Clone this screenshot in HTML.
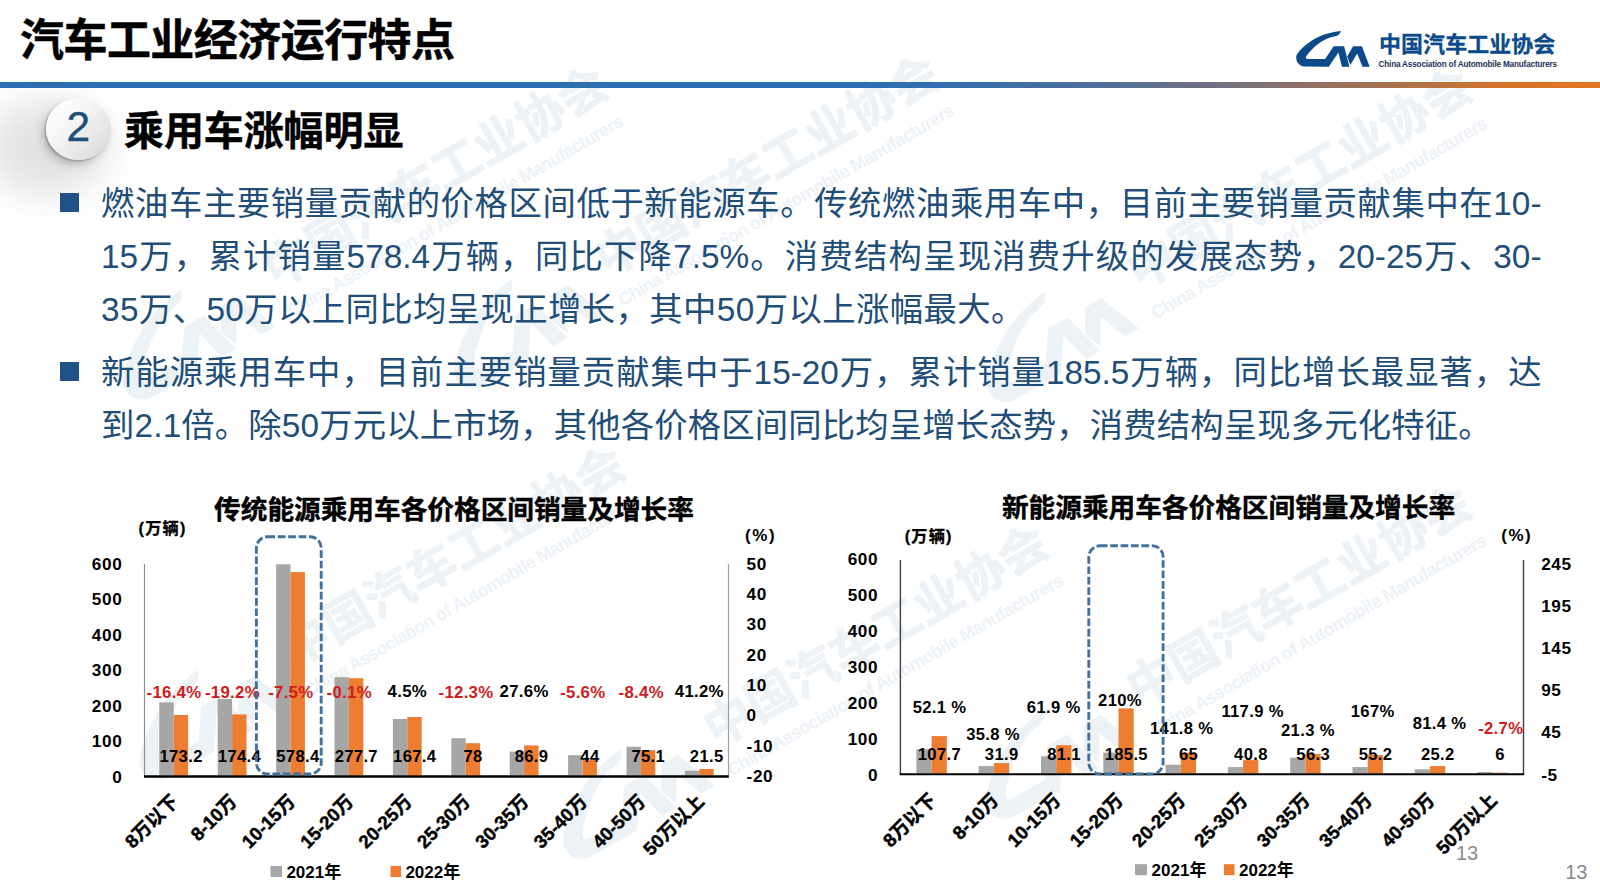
<!DOCTYPE html>
<html lang="zh-CN">
<head>
<meta charset="utf-8">
<title>汽车工业经济运行特点</title>
<style>
html,body{margin:0;padding:0;}
body{width:1600px;height:895px;overflow:hidden;background:#fff;position:relative;
 font-family:"Liberation Sans","Noto Sans CJK SC",sans-serif;color:#000;}
.abs{position:absolute;}
#title{left:20px;top:8.5px;font-size:44px;font-weight:700;line-height:64px;white-space:nowrap;letter-spacing:-0.55px;-webkit-text-stroke:0.5px #000;}
#rule{left:0;top:82.4px;width:1600px;height:5.4px;background:linear-gradient(90deg,#2e6eb2 0%,#2f6eb1 58%,#4d6f9c 68%,#7b7078 78%,#a9714c 87%,#d4742b 94%,#e3761f 100%);}
#shadow{left:-14px;top:101px;width:122px;height:94px;border-radius:50%;background:rgba(60,60,60,.15);filter:blur(19px);}
#circ{left:45.5px;top:97.9px;width:65.4px;height:61.8px;border-radius:50%;
 background:linear-gradient(135deg,#ffffff 0%,#f9f9f9 30%,#e9e9e9 65%,#d6d6d6 100%);
 box-shadow:-1.5px 1.5px 1.5px rgba(120,120,120,.55), -4px 5px 8px rgba(90,90,90,.30);}
#num{left:45.5px;top:96.2px;width:65.4px;height:62px;line-height:62px;text-align:center;font-size:42.5px;color:#1f4e79;-webkit-text-stroke:.35px #1f4e79;}
#sub{left:124px;top:100.5px;font-size:40px;font-weight:700;line-height:60px;white-space:nowrap;letter-spacing:-0.1px;-webkit-text-stroke:0.45px #000;}
.ln{left:101px;width:1440.5px;height:53px;font-size:33.33px;line-height:53px;color:#1f4e79;white-space:nowrap;}
.ln.j{text-align:justify;text-align-last:justify;white-space:normal;overflow:hidden;}
.sq{width:19.2px;height:19.4px;background:#1f5286;}
#lcn{left:1379px;top:30.3px;font-size:22px;line-height:30px;font-weight:700;color:#0d4a8a;letter-spacing:.05px;white-space:nowrap;-webkit-text-stroke:.3px #0d4a8a;}
#len{left:1378.5px;top:59.2px;font-size:8.2px;line-height:12px;font-weight:700;color:#1b3556;white-space:nowrap;letter-spacing:-0.185px;}
.pg{font-size:20px;line-height:20px;color:#8a8a8a;}
#wmwrap{left:0;top:0;width:1600px;height:895px;overflow:hidden;opacity:.065;}
.wm{position:absolute;width:0;height:0;transform-origin:0 0;transform:rotate(-30deg) scale(2.2);}
.wc{position:absolute;left:82.75px;top:-36.8px;font-size:22px;line-height:30px;font-weight:700;color:#0d4a8a;letter-spacing:.05px;white-space:nowrap;-webkit-text-stroke:.5px #0d4a8a;}
.we{position:absolute;left:82.25px;top:-7.6px;font-size:8.2px;line-height:12px;font-weight:700;color:#0d4a8a;white-space:nowrap;letter-spacing:-0.27px;-webkit-text-stroke:.12px #0d4a8a;}
</style>
</head>
<body>
<!--WM-->
<div id="wmwrap" class="abs">
<div class="wm" style="left:135px;top:407.5px"><svg class="abs" style="left:-6.25px;top:-42.8px" width="100" height="52" viewBox="0 0 100 52"><path fill="#0d4a8a" d="M50.9 6.9 C46 7.4 40 8.6 35 10.3 C29 12.4 23 15.6 18.75 18.75 C14 22 10 26 7.5 29.4 C6.3 31.2 6.1 32.6 6.25 33.75 C6.3 35.5 6.6 37 7.2 38.1 C7.8 39.2 8.8 40.2 10 40.9 C11 41.6 12.4 42.2 13.75 42.5 L38.75 42.8 L48.4 28.4 L51.9 42.8 L59.4 42.8 L54.1 22.2 L43.75 22.2 L35.1 35.1 L17.5 35 C16.4 34.8 15.9 34.4 15.9 33.75 C15.9 33 16.3 32.1 16.9 31.25 C18 29.6 19.6 27.8 21.25 26.25 C23 24.4 25.4 22.3 27.5 20.6 C29.4 19.1 31.7 17.5 33.75 16.25 C35.7 15.1 37.9 14.1 40 13.4 C42 12.8 44.3 12.3 46.25 11.9 C47.8 11.5 48.8 10.9 49.4 10 C50 9.1 50.5 8 50.9 6.9 Z"/><path fill="#0d4a8a" d="M63.1 22.2 L71.9 22.2 L79.7 42.8 L72.5 42.8 L67.2 29.4 L60.3 40.9 L57.2 32.5 Z"/></svg><div class="wc">中国汽车工业协会</div><div class="we">China Association of Automobile Manufacturers</div></div>
<div class="wm" style="left:466px;top:396.5px"><svg class="abs" style="left:-6.25px;top:-42.8px" width="100" height="52" viewBox="0 0 100 52"><path fill="#0d4a8a" d="M50.9 6.9 C46 7.4 40 8.6 35 10.3 C29 12.4 23 15.6 18.75 18.75 C14 22 10 26 7.5 29.4 C6.3 31.2 6.1 32.6 6.25 33.75 C6.3 35.5 6.6 37 7.2 38.1 C7.8 39.2 8.8 40.2 10 40.9 C11 41.6 12.4 42.2 13.75 42.5 L38.75 42.8 L48.4 28.4 L51.9 42.8 L59.4 42.8 L54.1 22.2 L43.75 22.2 L35.1 35.1 L17.5 35 C16.4 34.8 15.9 34.4 15.9 33.75 C15.9 33 16.3 32.1 16.9 31.25 C18 29.6 19.6 27.8 21.25 26.25 C23 24.4 25.4 22.3 27.5 20.6 C29.4 19.1 31.7 17.5 33.75 16.25 C35.7 15.1 37.9 14.1 40 13.4 C42 12.8 44.3 12.3 46.25 11.9 C47.8 11.5 48.8 10.9 49.4 10 C50 9.1 50.5 8 50.9 6.9 Z"/><path fill="#0d4a8a" d="M63.1 22.2 L71.9 22.2 L79.7 42.8 L72.5 42.8 L67.2 29.4 L60.3 40.9 L57.2 32.5 Z"/></svg><div class="wc">中国汽车工业协会</div><div class="we">China Association of Automobile Manufacturers</div></div>
<div class="wm" style="left:999px;top:410.4px"><svg class="abs" style="left:-6.25px;top:-42.8px" width="100" height="52" viewBox="0 0 100 52"><path fill="#0d4a8a" d="M50.9 6.9 C46 7.4 40 8.6 35 10.3 C29 12.4 23 15.6 18.75 18.75 C14 22 10 26 7.5 29.4 C6.3 31.2 6.1 32.6 6.25 33.75 C6.3 35.5 6.6 37 7.2 38.1 C7.8 39.2 8.8 40.2 10 40.9 C11 41.6 12.4 42.2 13.75 42.5 L38.75 42.8 L48.4 28.4 L51.9 42.8 L59.4 42.8 L54.1 22.2 L43.75 22.2 L35.1 35.1 L17.5 35 C16.4 34.8 15.9 34.4 15.9 33.75 C15.9 33 16.3 32.1 16.9 31.25 C18 29.6 19.6 27.8 21.25 26.25 C23 24.4 25.4 22.3 27.5 20.6 C29.4 19.1 31.7 17.5 33.75 16.25 C35.7 15.1 37.9 14.1 40 13.4 C42 12.8 44.3 12.3 46.25 11.9 C47.8 11.5 48.8 10.9 49.4 10 C50 9.1 50.5 8 50.9 6.9 Z"/><path fill="#0d4a8a" d="M63.1 22.2 L71.9 22.2 L79.7 42.8 L72.5 42.8 L67.2 29.4 L60.3 40.9 L57.2 32.5 Z"/></svg><div class="wc">中国汽车工业协会</div><div class="we">China Association of Automobile Manufacturers</div></div>
<div class="wm" style="left:151.5px;top:788px"><svg class="abs" style="left:-6.25px;top:-42.8px" width="100" height="52" viewBox="0 0 100 52"><path fill="#0d4a8a" d="M50.9 6.9 C46 7.4 40 8.6 35 10.3 C29 12.4 23 15.6 18.75 18.75 C14 22 10 26 7.5 29.4 C6.3 31.2 6.1 32.6 6.25 33.75 C6.3 35.5 6.6 37 7.2 38.1 C7.8 39.2 8.8 40.2 10 40.9 C11 41.6 12.4 42.2 13.75 42.5 L38.75 42.8 L48.4 28.4 L51.9 42.8 L59.4 42.8 L54.1 22.2 L43.75 22.2 L35.1 35.1 L17.5 35 C16.4 34.8 15.9 34.4 15.9 33.75 C15.9 33 16.3 32.1 16.9 31.25 C18 29.6 19.6 27.8 21.25 26.25 C23 24.4 25.4 22.3 27.5 20.6 C29.4 19.1 31.7 17.5 33.75 16.25 C35.7 15.1 37.9 14.1 40 13.4 C42 12.8 44.3 12.3 46.25 11.9 C47.8 11.5 48.8 10.9 49.4 10 C50 9.1 50.5 8 50.9 6.9 Z"/><path fill="#0d4a8a" d="M63.1 22.2 L71.9 22.2 L79.7 42.8 L72.5 42.8 L67.2 29.4 L60.3 40.9 L57.2 32.5 Z"/></svg><div class="wc">中国汽车工业协会</div><div class="we">China Association of Automobile Manufacturers</div></div>
<div class="wm" style="left:575.3px;top:867px"><svg class="abs" style="left:-6.25px;top:-42.8px" width="100" height="52" viewBox="0 0 100 52"><path fill="#0d4a8a" d="M50.9 6.9 C46 7.4 40 8.6 35 10.3 C29 12.4 23 15.6 18.75 18.75 C14 22 10 26 7.5 29.4 C6.3 31.2 6.1 32.6 6.25 33.75 C6.3 35.5 6.6 37 7.2 38.1 C7.8 39.2 8.8 40.2 10 40.9 C11 41.6 12.4 42.2 13.75 42.5 L38.75 42.8 L48.4 28.4 L51.9 42.8 L59.4 42.8 L54.1 22.2 L43.75 22.2 L35.1 35.1 L17.5 35 C16.4 34.8 15.9 34.4 15.9 33.75 C15.9 33 16.3 32.1 16.9 31.25 C18 29.6 19.6 27.8 21.25 26.25 C23 24.4 25.4 22.3 27.5 20.6 C29.4 19.1 31.7 17.5 33.75 16.25 C35.7 15.1 37.9 14.1 40 13.4 C42 12.8 44.3 12.3 46.25 11.9 C47.8 11.5 48.8 10.9 49.4 10 C50 9.1 50.5 8 50.9 6.9 Z"/><path fill="#0d4a8a" d="M63.1 22.2 L71.9 22.2 L79.7 42.8 L72.5 42.8 L67.2 29.4 L60.3 40.9 L57.2 32.5 Z"/></svg><div class="wc">中国汽车工业协会</div><div class="we">China Association of Automobile Manufacturers</div></div>
<div class="wm" style="left:997.6px;top:827px"><svg class="abs" style="left:-6.25px;top:-42.8px" width="100" height="52" viewBox="0 0 100 52"><path fill="#0d4a8a" d="M50.9 6.9 C46 7.4 40 8.6 35 10.3 C29 12.4 23 15.6 18.75 18.75 C14 22 10 26 7.5 29.4 C6.3 31.2 6.1 32.6 6.25 33.75 C6.3 35.5 6.6 37 7.2 38.1 C7.8 39.2 8.8 40.2 10 40.9 C11 41.6 12.4 42.2 13.75 42.5 L38.75 42.8 L48.4 28.4 L51.9 42.8 L59.4 42.8 L54.1 22.2 L43.75 22.2 L35.1 35.1 L17.5 35 C16.4 34.8 15.9 34.4 15.9 33.75 C15.9 33 16.3 32.1 16.9 31.25 C18 29.6 19.6 27.8 21.25 26.25 C23 24.4 25.4 22.3 27.5 20.6 C29.4 19.1 31.7 17.5 33.75 16.25 C35.7 15.1 37.9 14.1 40 13.4 C42 12.8 44.3 12.3 46.25 11.9 C47.8 11.5 48.8 10.9 49.4 10 C50 9.1 50.5 8 50.9 6.9 Z"/><path fill="#0d4a8a" d="M63.1 22.2 L71.9 22.2 L79.7 42.8 L72.5 42.8 L67.2 29.4 L60.3 40.9 L57.2 32.5 Z"/></svg><div class="wc">中国汽车工业协会</div><div class="we">China Association of Automobile Manufacturers</div></div>
</div>
<!--/WM-->
<div id="title" class="abs">汽车工业经济运行特点</div>
<div id="rule" class="abs"></div>
<div id="shadow" class="abs"></div>
<div id="circ" class="abs"></div>
<div id="num" class="abs">2</div>
<div id="sub" class="abs">乘用车涨幅明显</div>

<div class="abs sq" style="left:59.5px;top:192.5px"></div>
<div class="abs ln j" style="top:176.7px">燃油车主要销量贡献的价格区间低于新能源车。传统燃油乘用车中，目前主要销量贡献集中在10-</div>
<div class="abs ln j" style="top:229.7px">15万，累计销量578.4万辆，同比下降7.5%。消费结构呈现消费升级的发展态势，20-25万、30-</div>
<div class="abs ln" style="top:282.7px;letter-spacing:.42px">35万、50万以上同比均呈现正增长，其中50万以上涨幅最大。</div>
<div class="abs sq" style="left:59.5px;top:361.5px"></div>
<div class="abs ln j" style="top:345.6px">新能源乘用车中，目前主要销量贡献集中于15-20万，累计销量185.5万辆，同比增长最显著，达</div>
<div class="abs ln" style="top:398.8px;letter-spacing:.17px">到2.1倍。除50万元以上市场，其他各价格区间同比均呈增长态势，消费结构呈现多元化特征。</div>

<svg class="abs" style="left:1290px;top:24px" width="100" height="52" viewBox="0 0 100 52">
<path fill="#0d4a8a" d="M50.9 6.9 C46 7.4 40 8.6 35 10.3 C29 12.4 23 15.6 18.75 18.75 C14 22 10 26 7.5 29.4 C6.3 31.2 6.1 32.6 6.25 33.75 C6.3 35.5 6.6 37 7.2 38.1 C7.8 39.2 8.8 40.2 10 40.9 C11 41.6 12.4 42.2 13.75 42.5 L38.75 42.8 L48.4 28.4 L51.9 42.8 L59.4 42.8 L54.1 22.2 L43.75 22.2 L35.1 35.1 L17.5 35 C16.4 34.8 15.9 34.4 15.9 33.75 C15.9 33 16.3 32.1 16.9 31.25 C18 29.6 19.6 27.8 21.25 26.25 C23 24.4 25.4 22.3 27.5 20.6 C29.4 19.1 31.7 17.5 33.75 16.25 C35.7 15.1 37.9 14.1 40 13.4 C42 12.8 44.3 12.3 46.25 11.9 C47.8 11.5 48.8 10.9 49.4 10 C50 9.1 50.5 8 50.9 6.9 Z"/>
<path fill="#0d4a8a" d="M63.1 22.2 L71.9 22.2 L79.7 42.8 L72.5 42.8 L67.2 29.4 L60.3 40.9 L57.2 32.5 Z"/>
</svg>
<div id="lcn" class="abs">中国汽车工业协会</div>
<div id="len" class="abs">China Association of Automobile Manufacturers</div>
<div class="abs pg" style="left:1456px;top:843.2px">13</div>
<div class="abs pg" style="left:1565.2px;top:861.5px">13</div>

<!--CHARTS-->
<svg class="abs" style="left:0;top:0" width="1600" height="895" viewBox="0 0 1600 895" font-family="Liberation Sans, Noto Sans CJK SC, sans-serif">
<text x="454.0" y="519.3" font-size="26.67" text-anchor="middle" fill="#000" font-weight="700" stroke="#000" stroke-width="0.4">传统能源乘用车各价格区间销量及增长率</text>
<text x="162.6" y="534.2" font-size="16.2" text-anchor="middle" fill="#000" font-weight="700" letter-spacing="1.2" stroke="#000" stroke-width="0.3">(万辆)</text>
<text x="760.6" y="540.8" font-size="17" text-anchor="middle" fill="#000" font-weight="700" letter-spacing="1.5">(%)</text>
<line x1="144.5" y1="564.0" x2="144.5" y2="776.0" stroke="#8c8c8c" stroke-width="1.2"/>
<line x1="728.5" y1="564.0" x2="728.5" y2="776.0" stroke="#a0a0a0" stroke-width="1.2"/>
<text x="122.3" y="569.8" font-size="17.2" text-anchor="end" fill="#000" font-weight="700" letter-spacing="0.6">600</text>
<text x="122.3" y="605.3" font-size="17.2" text-anchor="end" fill="#000" font-weight="700" letter-spacing="0.6">500</text>
<text x="122.3" y="640.8" font-size="17.2" text-anchor="end" fill="#000" font-weight="700" letter-spacing="0.6">400</text>
<text x="122.3" y="676.3" font-size="17.2" text-anchor="end" fill="#000" font-weight="700" letter-spacing="0.6">300</text>
<text x="122.3" y="711.8" font-size="17.2" text-anchor="end" fill="#000" font-weight="700" letter-spacing="0.6">200</text>
<text x="122.3" y="747.3" font-size="17.2" text-anchor="end" fill="#000" font-weight="700" letter-spacing="0.6">100</text>
<text x="122.3" y="782.8" font-size="17.2" text-anchor="end" fill="#000" font-weight="700" letter-spacing="0.6">0</text>
<text x="746.6" y="569.8" font-size="17.2" text-anchor="start" fill="#000" font-weight="700" letter-spacing="0.6">50</text>
<text x="746.6" y="600.1" font-size="17.2" text-anchor="start" fill="#000" font-weight="700" letter-spacing="0.6">40</text>
<text x="746.6" y="630.4" font-size="17.2" text-anchor="start" fill="#000" font-weight="700" letter-spacing="0.6">30</text>
<text x="746.6" y="660.7" font-size="17.2" text-anchor="start" fill="#000" font-weight="700" letter-spacing="0.6">20</text>
<text x="746.6" y="691.0" font-size="17.2" text-anchor="start" fill="#000" font-weight="700" letter-spacing="0.6">10</text>
<text x="746.6" y="721.3" font-size="17.2" text-anchor="start" fill="#000" font-weight="700" letter-spacing="0.6">0</text>
<text x="746.6" y="751.6" font-size="17.2" text-anchor="start" fill="#000" font-weight="700" letter-spacing="0.6">-10</text>
<text x="746.6" y="781.9" font-size="17.2" text-anchor="start" fill="#000" font-weight="700" letter-spacing="0.6">-20</text>
<rect x="159.3" y="702.4" width="14.4" height="73.0" fill="#a6a6a6"/>
<rect x="173.7" y="715.0" width="14.4" height="60.4" fill="#ed7d31"/>
<rect x="217.7" y="699.0" width="14.4" height="76.4" fill="#a6a6a6"/>
<rect x="232.1" y="714.4" width="14.4" height="61.0" fill="#ed7d31"/>
<rect x="276.1" y="564.3" width="14.4" height="211.1" fill="#a6a6a6"/>
<rect x="290.5" y="572.1" width="14.4" height="203.3" fill="#ed7d31"/>
<rect x="334.5" y="677.2" width="14.4" height="98.2" fill="#a6a6a6"/>
<rect x="348.9" y="678.2" width="14.4" height="97.2" fill="#ed7d31"/>
<rect x="392.9" y="719.0" width="14.4" height="56.4" fill="#a6a6a6"/>
<rect x="407.3" y="717.0" width="14.4" height="58.4" fill="#ed7d31"/>
<rect x="451.3" y="738.2" width="14.4" height="37.2" fill="#a6a6a6"/>
<rect x="465.7" y="743.2" width="14.4" height="32.2" fill="#ed7d31"/>
<rect x="509.7" y="751.6" width="14.4" height="23.8" fill="#a6a6a6"/>
<rect x="524.1" y="745.4" width="14.4" height="30.0" fill="#ed7d31"/>
<rect x="568.1" y="755.2" width="14.4" height="20.2" fill="#a6a6a6"/>
<rect x="582.5" y="760.0" width="14.4" height="15.4" fill="#ed7d31"/>
<rect x="626.5" y="746.8" width="14.4" height="28.6" fill="#a6a6a6"/>
<rect x="640.9" y="750.2" width="14.4" height="25.2" fill="#ed7d31"/>
<rect x="684.9" y="770.7" width="14.4" height="4.7" fill="#a6a6a6"/>
<rect x="699.3" y="769.0" width="14.4" height="6.4" fill="#ed7d31"/>
<line x1="144.0" y1="776.5" x2="728.8" y2="776.5" stroke="#000" stroke-width="2.6"/>
<text x="174.0" y="698.0" font-size="16.8" text-anchor="middle" fill="#d01c1c" font-weight="700" letter-spacing="0.3">-16.4%</text>
<text x="181.1" y="761.8" font-size="16.6" text-anchor="middle" fill="#000" font-weight="700" letter-spacing="0.35">173.2</text>
<text transform="translate(179.5,802.6) rotate(-45)" font-size="18.6" font-weight="700" text-anchor="end" stroke="#000" stroke-width="0.45">8万以下</text>
<text x="232.4" y="698.0" font-size="16.8" text-anchor="middle" fill="#d01c1c" font-weight="700" letter-spacing="0.3">-19.2%</text>
<text x="239.5" y="761.8" font-size="16.6" text-anchor="middle" fill="#000" font-weight="700" letter-spacing="0.35">174.4</text>
<text transform="translate(237.9,802.6) rotate(-45)" font-size="18.6" font-weight="700" text-anchor="end" stroke="#000" stroke-width="0.45">8-10万</text>
<text x="290.8" y="698.0" font-size="16.8" text-anchor="middle" fill="#d01c1c" font-weight="700" letter-spacing="0.3">-7.5%</text>
<text x="297.9" y="761.8" font-size="16.6" text-anchor="middle" fill="#000" font-weight="700" letter-spacing="0.35">578.4</text>
<text transform="translate(296.3,802.6) rotate(-45)" font-size="18.6" font-weight="700" text-anchor="end" stroke="#000" stroke-width="0.45">10-15万</text>
<text x="349.2" y="698.0" font-size="16.8" text-anchor="middle" fill="#d01c1c" font-weight="700" letter-spacing="0.3">-0.1%</text>
<text x="356.3" y="761.8" font-size="16.6" text-anchor="middle" fill="#000" font-weight="700" letter-spacing="0.35">277.7</text>
<text transform="translate(354.7,802.6) rotate(-45)" font-size="18.6" font-weight="700" text-anchor="end" stroke="#000" stroke-width="0.45">15-20万</text>
<text x="407.3" y="696.9" font-size="16.8" text-anchor="middle" fill="#000" font-weight="700" letter-spacing="0.3">4.5%</text>
<text x="414.7" y="761.8" font-size="16.6" text-anchor="middle" fill="#000" font-weight="700" letter-spacing="0.35">167.4</text>
<text transform="translate(413.1,802.6) rotate(-45)" font-size="18.6" font-weight="700" text-anchor="end" stroke="#000" stroke-width="0.45">20-25万</text>
<text x="466.0" y="698.0" font-size="16.8" text-anchor="middle" fill="#d01c1c" font-weight="700" letter-spacing="0.3">-12.3%</text>
<text x="473.1" y="761.8" font-size="16.6" text-anchor="middle" fill="#000" font-weight="700" letter-spacing="0.35">78</text>
<text transform="translate(471.5,802.6) rotate(-45)" font-size="18.6" font-weight="700" text-anchor="end" stroke="#000" stroke-width="0.45">25-30万</text>
<text x="524.1" y="696.9" font-size="16.8" text-anchor="middle" fill="#000" font-weight="700" letter-spacing="0.3">27.6%</text>
<text x="531.5" y="761.8" font-size="16.6" text-anchor="middle" fill="#000" font-weight="700" letter-spacing="0.35">86.9</text>
<text transform="translate(529.9,802.6) rotate(-45)" font-size="18.6" font-weight="700" text-anchor="end" stroke="#000" stroke-width="0.45">30-35万</text>
<text x="582.8" y="698.0" font-size="16.8" text-anchor="middle" fill="#d01c1c" font-weight="700" letter-spacing="0.3">-5.6%</text>
<text x="589.9" y="761.8" font-size="16.6" text-anchor="middle" fill="#000" font-weight="700" letter-spacing="0.35">44</text>
<text transform="translate(588.3,802.6) rotate(-45)" font-size="18.6" font-weight="700" text-anchor="end" stroke="#000" stroke-width="0.45">35-40万</text>
<text x="641.2" y="698.0" font-size="16.8" text-anchor="middle" fill="#d01c1c" font-weight="700" letter-spacing="0.3">-8.4%</text>
<text x="648.3" y="761.8" font-size="16.6" text-anchor="middle" fill="#000" font-weight="700" letter-spacing="0.35">75.1</text>
<text transform="translate(646.7,802.6) rotate(-45)" font-size="18.6" font-weight="700" text-anchor="end" stroke="#000" stroke-width="0.45">40-50万</text>
<text x="699.3" y="696.9" font-size="16.8" text-anchor="middle" fill="#000" font-weight="700" letter-spacing="0.3">41.2%</text>
<text x="706.7" y="761.8" font-size="16.6" text-anchor="middle" fill="#000" font-weight="700" letter-spacing="0.35">21.5</text>
<text transform="translate(705.1,802.6) rotate(-45)" font-size="18.6" font-weight="700" text-anchor="end" stroke="#000" stroke-width="0.45">50万以上</text>
<rect x="256.4" y="536.8" width="64.8" height="237.2" rx="11" ry="11" fill="none" stroke="#41719c" stroke-width="2.9" stroke-dasharray="7.7 2.7"/>
<rect x="270.5" y="866.0" width="11.5" height="11.0" fill="#a6a6a6"/>
<text x="286.4" y="878.1" font-size="17" text-anchor="start" fill="#000" font-weight="700" >2021年</text>
<rect x="390.5" y="866.0" width="10.5" height="11.0" fill="#ed7d31"/>
<text x="405.4" y="878.1" font-size="17" text-anchor="start" fill="#000" font-weight="700" >2022年</text>
<text x="1228.5" y="517.3" font-size="26.67" text-anchor="middle" fill="#000" font-weight="700" stroke="#000" stroke-width="0.4">新能源乘用车各价格区间销量及增长率</text>
<text x="928.7" y="542.4" font-size="16.2" text-anchor="middle" fill="#000" font-weight="700" letter-spacing="1.2" stroke="#000" stroke-width="0.3">(万辆)</text>
<text x="1516.8" y="540.8" font-size="17" text-anchor="middle" fill="#000" font-weight="700" letter-spacing="1.5">(%)</text>
<line x1="900.4" y1="560.0" x2="900.4" y2="774.0" stroke="#404040" stroke-width="1.4"/>
<line x1="1523.5" y1="560.0" x2="1523.5" y2="774.0" stroke="#404040" stroke-width="1.4"/>
<text x="878.2" y="565.3" font-size="17.2" text-anchor="end" fill="#000" font-weight="700" letter-spacing="0.6">600</text>
<text x="878.2" y="601.2" font-size="17.2" text-anchor="end" fill="#000" font-weight="700" letter-spacing="0.6">500</text>
<text x="878.2" y="637.0" font-size="17.2" text-anchor="end" fill="#000" font-weight="700" letter-spacing="0.6">400</text>
<text x="878.2" y="672.9" font-size="17.2" text-anchor="end" fill="#000" font-weight="700" letter-spacing="0.6">300</text>
<text x="878.2" y="708.8" font-size="17.2" text-anchor="end" fill="#000" font-weight="700" letter-spacing="0.6">200</text>
<text x="878.2" y="744.7" font-size="17.2" text-anchor="end" fill="#000" font-weight="700" letter-spacing="0.6">100</text>
<text x="878.2" y="780.5" font-size="17.2" text-anchor="end" fill="#000" font-weight="700" letter-spacing="0.6">0</text>
<text x="1541.2" y="569.8" font-size="17.2" text-anchor="start" fill="#000" font-weight="700" letter-spacing="0.6">245</text>
<text x="1541.2" y="612.0" font-size="17.2" text-anchor="start" fill="#000" font-weight="700" letter-spacing="0.6">195</text>
<text x="1541.2" y="654.1" font-size="17.2" text-anchor="start" fill="#000" font-weight="700" letter-spacing="0.6">145</text>
<text x="1541.2" y="696.3" font-size="17.2" text-anchor="start" fill="#000" font-weight="700" letter-spacing="0.6">95</text>
<text x="1541.2" y="738.4" font-size="17.2" text-anchor="start" fill="#000" font-weight="700" letter-spacing="0.6">45</text>
<text x="1541.2" y="780.6" font-size="17.2" text-anchor="start" fill="#000" font-weight="700" letter-spacing="0.6">-5</text>
<rect x="916.4" y="749.2" width="15.2" height="24.2" fill="#a6a6a6"/>
<rect x="931.6" y="736.1" width="15.2" height="37.3" fill="#ed7d31"/>
<rect x="978.7" y="766.1" width="15.2" height="7.3" fill="#a6a6a6"/>
<rect x="993.9" y="763.1" width="15.2" height="10.3" fill="#ed7d31"/>
<rect x="1041.0" y="756.3" width="15.2" height="17.1" fill="#a6a6a6"/>
<rect x="1056.2" y="745.2" width="15.2" height="28.2" fill="#ed7d31"/>
<rect x="1103.3" y="752.6" width="15.2" height="20.8" fill="#a6a6a6"/>
<rect x="1118.5" y="708.4" width="15.2" height="65.0" fill="#ed7d31"/>
<rect x="1165.6" y="764.7" width="15.2" height="8.7" fill="#a6a6a6"/>
<rect x="1180.8" y="752.8" width="15.2" height="20.6" fill="#ed7d31"/>
<rect x="1227.9" y="767.1" width="15.2" height="6.3" fill="#a6a6a6"/>
<rect x="1243.1" y="760.1" width="15.2" height="13.3" fill="#ed7d31"/>
<rect x="1290.2" y="757.7" width="15.2" height="15.7" fill="#a6a6a6"/>
<rect x="1305.4" y="754.0" width="15.2" height="19.4" fill="#ed7d31"/>
<rect x="1352.5" y="767.1" width="15.2" height="6.3" fill="#a6a6a6"/>
<rect x="1367.7" y="755.0" width="15.2" height="18.4" fill="#ed7d31"/>
<rect x="1414.8" y="769.3" width="15.2" height="4.1" fill="#a6a6a6"/>
<rect x="1430.0" y="766.1" width="15.2" height="7.3" fill="#ed7d31"/>
<rect x="1477.1" y="772.0" width="15.2" height="1.4" fill="#a6a6a6"/>
<rect x="1492.3" y="772.6" width="15.2" height="0.8" fill="#ed7d31"/>
<line x1="899.7" y1="774.3" x2="1524.2" y2="774.3" stroke="#000" stroke-width="2.1"/>
<text x="939.6" y="712.9" font-size="16.6" text-anchor="middle" fill="#000" font-weight="700" letter-spacing="0.35">52.1 %</text>
<text x="939.4" y="760.0" font-size="16.6" text-anchor="middle" fill="#000" font-weight="700" letter-spacing="0.35">107.7</text>
<text transform="translate(937.4,801.4) rotate(-45)" font-size="18.6" font-weight="700" text-anchor="end" stroke="#000" stroke-width="0.45">8万以下</text>
<text x="993.1" y="740.1" font-size="16.6" text-anchor="middle" fill="#000" font-weight="700" letter-spacing="0.35">35.8 %</text>
<text x="1001.7" y="760.0" font-size="16.6" text-anchor="middle" fill="#000" font-weight="700" letter-spacing="0.35">31.9</text>
<text transform="translate(999.7,801.4) rotate(-45)" font-size="18.6" font-weight="700" text-anchor="end" stroke="#000" stroke-width="0.45">8-10万</text>
<text x="1053.7" y="712.9" font-size="16.6" text-anchor="middle" fill="#000" font-weight="700" letter-spacing="0.35">61.9 %</text>
<text x="1064.0" y="760.0" font-size="16.6" text-anchor="middle" fill="#000" font-weight="700" letter-spacing="0.35">81.1</text>
<text transform="translate(1062.0,801.4) rotate(-45)" font-size="18.6" font-weight="700" text-anchor="end" stroke="#000" stroke-width="0.45">10-15万</text>
<text x="1120.0" y="705.9" font-size="16.6" text-anchor="middle" fill="#000" font-weight="700" letter-spacing="0.35">210%</text>
<text x="1126.3" y="760.0" font-size="16.6" text-anchor="middle" fill="#000" font-weight="700" letter-spacing="0.35">185.5</text>
<text transform="translate(1124.3,801.4) rotate(-45)" font-size="18.6" font-weight="700" text-anchor="end" stroke="#000" stroke-width="0.45">15-20万</text>
<text x="1181.7" y="734.1" font-size="16.6" text-anchor="middle" fill="#000" font-weight="700" letter-spacing="0.35">141.8 %</text>
<text x="1188.6" y="760.0" font-size="16.6" text-anchor="middle" fill="#000" font-weight="700" letter-spacing="0.35">65</text>
<text transform="translate(1186.6,801.4) rotate(-45)" font-size="18.6" font-weight="700" text-anchor="end" stroke="#000" stroke-width="0.45">20-25万</text>
<text x="1252.6" y="717.1" font-size="16.6" text-anchor="middle" fill="#000" font-weight="700" letter-spacing="0.35">117.9 %</text>
<text x="1250.9" y="760.0" font-size="16.6" text-anchor="middle" fill="#000" font-weight="700" letter-spacing="0.35">40.8</text>
<text transform="translate(1248.9,801.4) rotate(-45)" font-size="18.6" font-weight="700" text-anchor="end" stroke="#000" stroke-width="0.45">25-30万</text>
<text x="1307.9" y="735.7" font-size="16.6" text-anchor="middle" fill="#000" font-weight="700" letter-spacing="0.35">21.3 %</text>
<text x="1313.2" y="760.0" font-size="16.6" text-anchor="middle" fill="#000" font-weight="700" letter-spacing="0.35">56.3</text>
<text transform="translate(1311.2,801.4) rotate(-45)" font-size="18.6" font-weight="700" text-anchor="end" stroke="#000" stroke-width="0.45">30-35万</text>
<text x="1372.7" y="717.1" font-size="16.6" text-anchor="middle" fill="#000" font-weight="700" letter-spacing="0.35">167%</text>
<text x="1375.5" y="760.0" font-size="16.6" text-anchor="middle" fill="#000" font-weight="700" letter-spacing="0.35">55.2</text>
<text transform="translate(1373.5,801.4) rotate(-45)" font-size="18.6" font-weight="700" text-anchor="end" stroke="#000" stroke-width="0.45">35-40万</text>
<text x="1439.6" y="729.2" font-size="16.6" text-anchor="middle" fill="#000" font-weight="700" letter-spacing="0.35">81.4 %</text>
<text x="1437.8" y="760.0" font-size="16.6" text-anchor="middle" fill="#000" font-weight="700" letter-spacing="0.35">25.2</text>
<text transform="translate(1435.8,801.4) rotate(-45)" font-size="18.6" font-weight="700" text-anchor="end" stroke="#000" stroke-width="0.45">40-50万</text>
<text x="1500.7" y="733.6" font-size="16.6" text-anchor="middle" fill="#d01c1c" font-weight="700" letter-spacing="0.35">-2.7%</text>
<text x="1500.1" y="760.0" font-size="16.6" text-anchor="middle" fill="#000" font-weight="700" letter-spacing="0.35">6</text>
<text transform="translate(1498.1,801.4) rotate(-45)" font-size="18.6" font-weight="700" text-anchor="end" stroke="#000" stroke-width="0.45">50万以上</text>
<rect x="1088.8" y="545.8" width="74.3" height="228.2" rx="11" ry="11" fill="none" stroke="#41719c" stroke-width="2.9" stroke-dasharray="7.7 2.7"/>
<rect x="1135.0" y="864.2" width="12.0" height="11.0" fill="#a6a6a6"/>
<text x="1151.6" y="875.7" font-size="17" text-anchor="start" fill="#000" font-weight="700" >2021年</text>
<rect x="1224.0" y="864.2" width="10.5" height="11.0" fill="#ed7d31"/>
<text x="1239.0" y="875.7" font-size="17" text-anchor="start" fill="#000" font-weight="700" >2022年</text>
</svg>
<!--/CHARTS-->
</body>
</html>
